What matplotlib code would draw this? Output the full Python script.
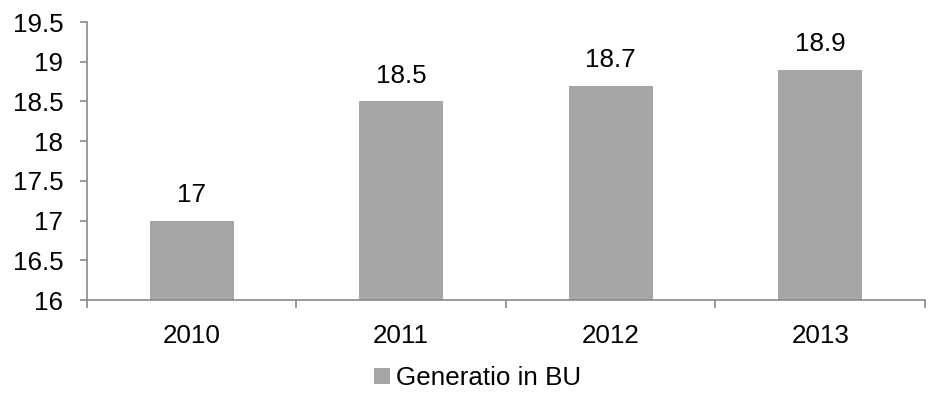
import matplotlib
matplotlib.use("Agg")
import matplotlib.pyplot as plt
from matplotlib.ticker import FixedLocator, NullFormatter

plt.rcParams['font.family'] = ['Liberation Sans', 'DejaVu Sans']

years = ["2010", "2011", "2012", "2013"]
generation = [17.0, 18.5, 18.7, 18.9]
y_ticks = [16, 16.5, 17, 17.5, 18, 18.5, 19, 19.5]
series_name = "Generatio in BU"

bar_color = "#A6A6A6"
axis_color = "#898989"
fs = 18.7

fig = plt.figure(figsize=(9.37, 3.98), dpi=100)
ax = fig.add_axes([87 / 937, 1 - 300 / 398, (925 - 87) / 937, (300 - 22) / 398])

x = list(range(len(years)))
base = y_ticks[0]
bars = ax.bar(x, [v - base for v in generation], bottom=base, width=0.4,
              color=bar_color, label=series_name, zorder=2)

for xi, v in zip(x, generation):
    ax.annotate(f"{v:g}", (xi, v), xytext=(0, 10), textcoords="offset points",
                ha="center", va="bottom", fontsize=fs, color="black")

ax.set_xlim(-0.5, len(years) - 0.5)
ax.set_ylim(y_ticks[0], y_ticks[-1])
ax.set_yticks(y_ticks)
ax.set_yticklabels([f"{t:g}" for t in y_ticks], fontsize=fs)
ax.set_xticks(x)
ax.set_xticklabels(years, fontsize=fs)
ax.xaxis.set_minor_locator(FixedLocator([i - 0.5 for i in range(len(years) + 1)]))
ax.xaxis.set_minor_formatter(NullFormatter())
ax.tick_params(axis="x", which="major", length=0, pad=17)
ax.tick_params(axis="x", which="minor", length=6, width=1.2, color=axis_color, direction="out")
ax.tick_params(axis="y", length=5, width=1.2, color=axis_color, direction="out", pad=12)

for side in ("top", "right"):
    ax.spines[side].set_visible(False)
for side in ("left", "bottom"):
    ax.spines[side].set_color(axis_color)
    ax.spines[side].set_linewidth(1.2)

fig.legend(handles=[bars], labels=[series_name], loc="center",
           bbox_to_anchor=(478 / 937, 1 - 378 / 398), frameon=False,
           fontsize=fs, handlelength=0.6, handleheight=0.6, handletextpad=0.25)

fig.savefig("out.png", dpi=100)
